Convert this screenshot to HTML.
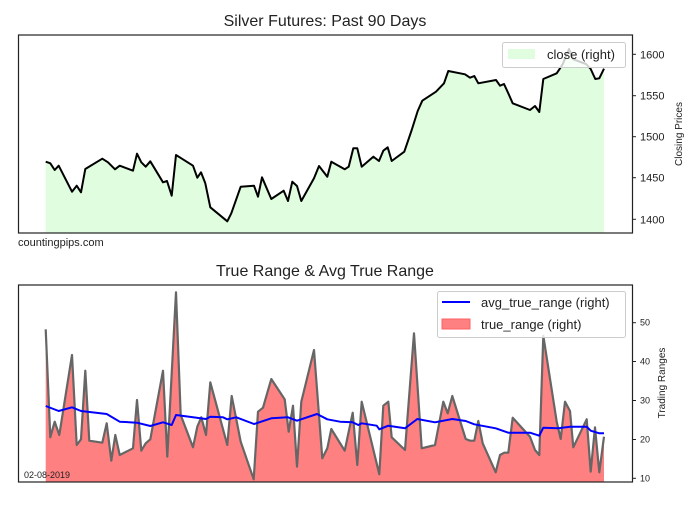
<!DOCTYPE html>
<html><head><meta charset="utf-8"><style>
body{margin:0;background:#fff;}
svg text{font-family:"Liberation Sans",Arial,sans-serif;fill:#222;}
</style></head><body>
<svg width="700" height="500" viewBox="0 0 700 500" xmlns="http://www.w3.org/2000/svg">
<rect width="700" height="500" fill="#fff"/>
<text x="325" y="26" font-size="16" text-anchor="middle">Silver Futures: Past 90 Days</text>
<polygon fill="#e0fde0" points="45.7,233 45.7,161.7 50.3,163.3 54.7,170 58.7,165.7 72,191.7 76.7,185.7 81,192.3 85.3,169 102.3,158.7 108,162.3 115,169.3 119.7,165.7 133,170.7 137,153.7 141.3,162.3 145.7,166.7 150.3,161.3 163,182.3 167,181 171.7,195.7 176,155 181.3,158.3 193,165.7 197.3,177.7 201,172.3 205.3,183.3 210.3,207.3 227.3,221.3 231.3,213.3 240.7,186.7 254,185.7 258,196.7 262,177.3 271.3,199 283.7,190.7 288,201 292.3,181.7 297,186 301.3,201 314,178.3 319,166 327.3,176.7 331.3,161.7 344.7,169.3 348.7,166.7 353.3,148.3 357.3,148.3 361.7,166.7 373.3,156.7 379,161 383.3,150.7 387.7,147.3 391.7,161 404.3,151.7 411.7,130 417.7,111 422.3,100.7 436,91.7 444,83.3 448.3,71 465,74.3 470,77.7 474.3,76 478.3,83.3 496,80 500,85.7 504,84 508.3,93.3 512.7,103.3 530,110 535,106 539.3,112 543.3,79 556.7,73.3 562.7,64.3 569,49 573.3,59.3 586,64 590.7,69 595.3,79 599.3,78.3 604,68.7 604,233"/>
<polyline fill="none" stroke="#000" stroke-width="2" stroke-linejoin="round" points="45.7,161.7 50.3,163.3 54.7,170 58.7,165.7 72,191.7 76.7,185.7 81,192.3 85.3,169 102.3,158.7 108,162.3 115,169.3 119.7,165.7 133,170.7 137,153.7 141.3,162.3 145.7,166.7 150.3,161.3 163,182.3 167,181 171.7,195.7 176,155 181.3,158.3 193,165.7 197.3,177.7 201,172.3 205.3,183.3 210.3,207.3 227.3,221.3 231.3,213.3 240.7,186.7 254,185.7 258,196.7 262,177.3 271.3,199 283.7,190.7 288,201 292.3,181.7 297,186 301.3,201 314,178.3 319,166 327.3,176.7 331.3,161.7 344.7,169.3 348.7,166.7 353.3,148.3 357.3,148.3 361.7,166.7 373.3,156.7 379,161 383.3,150.7 387.7,147.3 391.7,161 404.3,151.7 411.7,130 417.7,111 422.3,100.7 436,91.7 444,83.3 448.3,71 465,74.3 470,77.7 474.3,76 478.3,83.3 496,80 500,85.7 504,84 508.3,93.3 512.7,103.3 530,110 535,106 539.3,112 543.3,79 556.7,73.3 562.7,64.3 569,49 573.3,59.3 586,64 590.7,69 595.3,79 599.3,78.3 604,68.7"/>
<rect x="18.5" y="35" width="614" height="198" fill="none" stroke="#222" stroke-width="1.2"/>
<g stroke="#222"><line x1="632" y1="54.3" x2="636" y2="54.3"/><line x1="632" y1="95.7" x2="636" y2="95.7"/><line x1="632" y1="136.7" x2="636" y2="136.7"/><line x1="632" y1="177.7" x2="636" y2="177.7"/><line x1="632" y1="219.3" x2="636" y2="219.3"/></g>
<g font-size="11"><text x="640" y="58.3">1600</text><text x="640" y="99.7">1550</text><text x="640" y="140.7">1500</text><text x="640" y="181.7">1450</text><text x="640" y="223.3">1400</text></g>
<text transform="translate(682,134) rotate(-90)" font-size="10" text-anchor="middle">Closing Prices</text>
<rect x="502.5" y="42.5" width="123" height="25" rx="2" fill="#fff" fill-opacity="0.8" stroke="#ccc"/>
<rect x="508" y="49" width="27" height="10" fill="#e0fde0"/>
<text x="547" y="59" font-size="13">close (right)</text>
<text x="18" y="246" font-size="11">countingpips.com</text>

<text x="325" y="276" font-size="16" text-anchor="middle">True Range &amp; Avg True Range</text>
<polygon fill="#ff8080" points="45.7,482 45.7,329.3 50.3,437.3 54.7,421.7 59.3,435 72,355 76.7,445 81,439.3 85.3,370.7 89.3,440.7 102.3,442.7 106.7,423.3 111.3,460.7 115.3,435 119.7,455 133,448.3 137,400 141.3,450.7 145.7,443.3 150.3,439.3 163,370.7 167.3,456.7 176,292.3 180.7,415 193,447.3 197.3,426.7 201.3,417.3 206,435 210.3,382.3 227.3,445 231.7,396 240.7,441.7 253.7,479.3 258,411.7 263,407.7 271.3,379 284.7,399.3 288.7,431.7 293,405.7 297,466.7 301.3,401.7 314,350 322.3,458.3 327.3,448.3 331.3,429 344.7,450.7 352.7,412.7 357.3,465 361.7,401.7 379.3,474.3 383.3,405.7 388.3,401.7 391.7,437.3 405,450 414,333.3 421.7,448.3 435,445 443.3,401.7 447.7,413.3 452.3,396 465.7,439 470,440.7 474.3,440.7 478.3,421 482.7,443.3 495.7,472.3 500,455 504.3,452.7 508.3,452.7 512.7,417.7 530,436.7 535,450 539.3,455 543.3,335.7 556.7,421.7 560.7,439 565,401.7 570,411 573.3,447.3 586.7,419.3 590.7,471.7 595,427.3 599.3,472.3 604,436.7 604,482"/>
<polyline fill="none" stroke="#666" stroke-width="2.2" stroke-linejoin="round" points="45.7,329.3 50.3,437.3 54.7,421.7 59.3,435 72,355 76.7,445 81,439.3 85.3,370.7 89.3,440.7 102.3,442.7 106.7,423.3 111.3,460.7 115.3,435 119.7,455 133,448.3 137,400 141.3,450.7 145.7,443.3 150.3,439.3 163,370.7 167.3,456.7 176,292.3 180.7,415 193,447.3 197.3,426.7 201.3,417.3 206,435 210.3,382.3 227.3,445 231.7,396 240.7,441.7 253.7,479.3 258,411.7 263,407.7 271.3,379 284.7,399.3 288.7,431.7 293,405.7 297,466.7 301.3,401.7 314,350 322.3,458.3 327.3,448.3 331.3,429 344.7,450.7 352.7,412.7 357.3,465 361.7,401.7 379.3,474.3 383.3,405.7 388.3,401.7 391.7,437.3 405,450 414,333.3 421.7,448.3 435,445 443.3,401.7 447.7,413.3 452.3,396 465.7,439 470,440.7 474.3,440.7 478.3,421 482.7,443.3 495.7,472.3 500,455 504.3,452.7 508.3,452.7 512.7,417.7 530,436.7 535,450 539.3,455 543.3,335.7 556.7,421.7 560.7,439 565,401.7 570,411 573.3,447.3 586.7,419.3 590.7,471.7 595,427.3 599.3,472.3 604,436.7"/>
<polyline fill="none" stroke="#0000ff" stroke-width="2" stroke-linejoin="round" points="45.7,406 58.7,411 72,407.3 81,411 106.7,414 119.7,421.7 137,422.7 150.3,426 163,422.3 171.7,425 176,415 193,417.3 206,419 210.3,416.7 223,417.3 227.3,419.3 236.3,417.3 254,424 271.3,418.3 288,417.3 297,420.7 317,414 327.3,419.3 340,421.7 352.7,422.3 358.3,425 361.7,423.3 376.7,425.7 379.3,429.3 388.3,425.7 405,428.3 417.3,419 435,422.3 452.3,419 465.7,421 474.3,424.3 495.7,428.3 508.3,432.7 530,432.7 539.3,435.7 543.3,427.7 558.3,428.3 570,426.7 586.7,426.7 590.7,430.7 599.3,433.3 604,433.3"/>
<rect x="18.5" y="285" width="614" height="197" fill="none" stroke="#222" stroke-width="1.2"/>
<g stroke="#222"><line x1="632" y1="322.7" x2="636" y2="322.7"/><line x1="632" y1="361.5" x2="636" y2="361.5"/><line x1="632" y1="400.5" x2="636" y2="400.5"/><line x1="632" y1="439.5" x2="636" y2="439.5"/><line x1="632" y1="478.3" x2="636" y2="478.3"/></g>
<g font-size="9"><text x="640" y="325.7">50</text><text x="640" y="364.5">40</text><text x="640" y="403.5">30</text><text x="640" y="442.5">20</text><text x="640" y="481.3">10</text></g>
<text transform="translate(665,383) rotate(-90)" font-size="10" text-anchor="middle">Trading Ranges</text>
<rect x="437.5" y="291.5" width="188" height="46" rx="2" fill="#fff" fill-opacity="0.8" stroke="#ccc"/>
<line x1="442" y1="302" x2="470" y2="302" stroke="#0000ff" stroke-width="2"/>
<text x="481" y="307" font-size="13">avg_true_range (right)</text>
<rect x="442" y="319" width="28" height="10" fill="#ff8080" stroke="#ff6060"/>
<text x="481" y="329" font-size="13">true_range (right)</text>
<text x="24" y="478" font-size="9">02-08-2019</text>
</svg>
</body></html>
